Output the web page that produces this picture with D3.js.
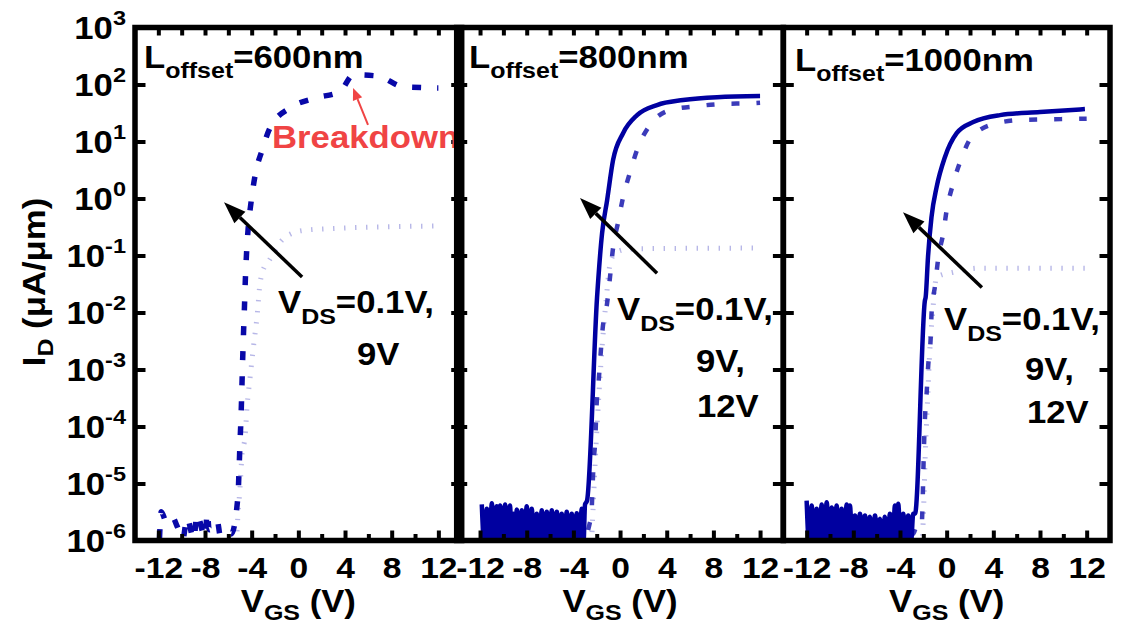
<!DOCTYPE html>
<html>
<head>
<meta charset="utf-8">
<script src="https://cdn.jsdelivr.net/npm/d3@7"></script>
<style>
  body { margin: 0; background: #fff; }
  text { font-family: "Liberation Sans", Arial, sans-serif; font-weight: bold; }
</style>
</head>
<body>
<svg id="chart" width="1127" height="626"></svg>
<script>
// ---- axis ticks / labels ----
const vgsTicks = [-12, -8, -4, 0, 4, 8, 12];
const vgsMinorTicks = [-10, -6, -2, 2, 6, 10];
const idTicks = [1e-6, 1e-5, 1e-4, 1e-3, 1e-2, 1e-1, 1, 10, 100, 1000];
const idExponents = ["-6", "-5", "-4", "-3", "-2", "-1", "0", "1", "2", "3"];
const offsetLengths = ["600nm", "800nm", "1000nm"];
const vdsLists = [["9V"], ["9V,", "12V"], ["9V,", "12V"]];

// ---- L_offset = 600nm : [VGS (V), ID (uA/um)] ----
const p1Vds9 = [
  [-11.9, 1.1e-6], [-11.75, 3.2e-6], [-11.3, 2.1e-6], [-10.8, 2.6e-6], [-10.4, 1.8e-6],
  [-9.9, 1.05e-6], [-9.55, 2.5e-6], [-8.95, 1.05e-6], [-8.7, 2.9e-6], [-8.0, 1.15e-6],
  [-7.8, 3.1e-6], [-7.65, 1.55e-6], [-6.95, 2.25e-6], [-6.7, 1.25e-6], [-6.0, 1.5e-6],
  [-5.75, 1.3e-6], [-5.17, 6.2e-6], [-5.08, 1.8e-5], [-5.0, 5.2e-5], [-4.91, 1.55e-4],
  [-4.84, 4.7e-4], [-4.78, 1.35e-3], [-4.7, 4.3e-3], [-4.62, 0.0123], [-4.55, 0.034],
  [-4.45, 0.1], [-4.3, 0.30], [-4.05, 0.87], [-3.7, 2.6], [-3.1, 7.1], [-2.4, 17.8],
  [-0.7, 39], [1.4, 57.5], [3.6, 76], [4.7, 148], [6.8, 141], [9.0, 91], [12.0, 87]
];
const p1Vds01 = [
  [-12, 6e-7], [-5.4, 6e-7], [-5.17, 2.95e-6], [-5.0, 8.5e-6], [-4.82, 3.4e-5],
  [-4.57, 6.5e-5], [-4.4, 2.2e-4], [-4.14, 7.1e-4], [-3.88, 2.2e-3], [-3.45, 0.0135],
  [-3.37, 0.022], [-3.03, 0.055], [-2.6, 0.076], [-1.4, 0.186], [-0.54, 0.245],
  [0.4, 0.275], [3.3, 0.30], [8.1, 0.32], [12, 0.33]
];

// ---- L_offset = 800nm ----
const p2Noise12 = [
  [-11.85, 4.3e-6], [-11.63, 8e-7], [-11.42, 3.6e-6], [-11.2, 8e-7], [-10.99, 4.5e-6],
  [-10.78, 8e-7], [-10.57, 4.0e-6], [-10.42, 8e-7], [-10.28, 4.1e-6], [-10.06, 8e-7],
  [-9.85, 4.3e-6], [-9.64, 8e-7], [-9.43, 4.1e-6], [-9.28, 8e-7], [-9.14, 2.95e-6],
  [-9.0, 8e-7], [-8.85, 3.5e-6], [-8.63, 8e-7], [-8.42, 3.4e-6], [-8.2, 8e-7],
  [-8.0, 4.0e-6], [-7.78, 8e-7], [-7.57, 3.6e-6], [-7.35, 8e-7], [-7.14, 2.95e-6],
  [-6.92, 8e-7], [-6.71, 3.4e-6], [-6.5, 8e-7], [-6.28, 3.2e-6], [-6.06, 8e-7],
  [-5.85, 3.4e-6], [-5.63, 8e-7], [-5.42, 3.2e-6], [-5.2, 8e-7], [-5.0, 2.95e-6],
  [-4.78, 8e-7], [-4.57, 3.2e-6], [-4.35, 8e-7], [-4.14, 2.95e-6], [-3.92, 8e-7],
  [-3.71, 3.0e-6], [-3.5, 8e-7], [-3.28, 3.6e-6], [-3.14, 8e-7], [-3.0, 4.3e-6]
];
const p2Rise12 = [
  [-2.83, 5.0e-6], [-1.97, 0.0185], [-1.54, 0.246], [-1.11, 0.93], [-0.6, 4.7],
  [0.26, 14.0], [1.46, 29], [3.17, 43.6], [5.4, 53.3], [8.31, 60], [12, 62.7]
];
const p2Vds9 = [
  [-11.8, 3.4e-6], [-11.3, 1.2e-6], [-10.7, 3.0e-6], [-10.1, 1.3e-6], [-9.5, 3.2e-6],
  [-8.9, 1.1e-6], [-8.3, 2.8e-6], [-7.7, 1.2e-6], [-7.1, 2.7e-6], [-6.5, 1.3e-6],
  [-5.9, 2.9e-6], [-5.3, 1.1e-6], [-4.7, 2.6e-6], [-4.1, 1.2e-6], [-3.5, 2.8e-6],
  [-2.9, 1.3e-6], [-2.6, 2.0e-6], [-2.46, 2.75e-6], [-2.37, 7.1e-6], [-2.28, 2.1e-5],
  [-2.11, 6.6e-5], [-2.03, 1.95e-4], [-1.85, 5.6e-4], [-1.68, 1.7e-3], [-1.5, 5.0e-3],
  [-1.11, 0.0145], [-0.86, 0.042], [-0.6, 0.135], [-0.17, 0.38], [0.26, 1.05],
  [0.86, 2.9], [1.54, 7.9], [2.57, 19.5], [4.28, 35.5], [6.6, 41.7], [8.83, 45.7],
  [11.14, 46.8], [12, 47.9]
];
const p2Vds01 = [
  [-12, 6e-7], [-2.5, 6e-7], [-2.35, 2.5e-6], [-2.1, 3.2e-5], [-1.8, 4.0e-4],
  [-1.5, 3.2e-3], [-1.2, 0.0158], [-0.9, 0.063], [-0.5, 0.105], [0.3, 0.126],
  [2, 0.132], [12, 0.135]
];

// ---- L_offset = 1000nm ----
const p3Noise12 = [
  [-12.0, 5.0e-6], [-11.78, 8e-7], [-11.57, 4.1e-6], [-11.35, 8e-7], [-11.14, 3.6e-6],
  [-10.92, 8e-7], [-10.71, 4.3e-6], [-10.5, 8e-7], [-10.28, 4.7e-6], [-10.06, 8e-7],
  [-9.85, 3.8e-6], [-9.64, 8e-7], [-9.43, 4.1e-6], [-9.21, 8e-7], [-9.0, 3.6e-6],
  [-8.78, 8e-7], [-8.57, 4.3e-6], [-8.43, 8e-7], [-8.29, 4.1e-6], [-8.07, 8e-7],
  [-7.86, 2.75e-6], [-7.64, 8e-7], [-7.43, 2.95e-6], [-7.21, 8e-7], [-7.0, 2.75e-6],
  [-6.78, 8e-7], [-6.57, 2.6e-6], [-6.35, 8e-7], [-6.14, 2.75e-6], [-5.93, 8e-7],
  [-5.72, 2.4e-6], [-5.5, 8e-7], [-5.29, 2.6e-6], [-5.07, 8e-7], [-4.86, 2.95e-6],
  [-4.64, 8e-7], [-4.43, 4.1e-6], [-4.29, 8e-7], [-4.15, 4.4e-6], [-3.93, 8e-7],
  [-3.72, 2.95e-6], [-3.5, 8e-7], [-3.29, 2.75e-6], [-3.07, 8e-7], [-2.86, 2.95e-6]
];
const p3Rise12 = [
  [-2.71, 2.95e-6], [-1.86, 0.0164], [-1.8, 0.0185], [-1.6, 0.093], [-1.3, 0.47],
  [-0.86, 1.58], [-0.15, 5.3], [0.86, 14.0], [2.28, 21.9], [4.57, 29], [8.0, 32.8],
  [11.85, 37]
];
const p3Vds9 = [
  [-11.9, 3.6e-6], [-11.3, 1.2e-6], [-10.7, 3.2e-6], [-10.1, 1.3e-6], [-9.5, 3.0e-6],
  [-8.9, 1.1e-6], [-8.3, 2.9e-6], [-7.7, 1.2e-6], [-7.1, 2.4e-6], [-6.5, 1.3e-6],
  [-5.9, 2.3e-6], [-5.3, 1.1e-6], [-4.7, 2.5e-6], [-4.1, 1.2e-6], [-3.5, 2.6e-6],
  [-2.9, 1.3e-6], [-2.4, 2.2e-6], [-2.14, 2.0e-6], [-2.05, 5.5e-6], [-2.0, 1.55e-5],
  [-1.94, 4.7e-5], [-1.86, 1.38e-4], [-1.71, 4.0e-4], [-1.58, 1.17e-3], [-1.37, 3.5e-3],
  [-1.29, 0.01], [-0.99, 0.030], [-0.71, 0.093], [-0.29, 0.245], [0, 0.62],
  [0.57, 1.86], [1.29, 5.2], [2.14, 12.0], [4.28, 20.9], [6.56, 24.0], [8.85, 24.5],
  [12, 25.1]
];
const p3Vds01 = [
  [-12, 6e-7], [-2.2, 6e-7], [-2.0, 2.5e-6], [-1.85, 2.5e-5], [-1.65, 2.5e-4],
  [-1.45, 2.0e-3], [-1.2, 0.01], [-0.86, 0.042], [0.57, 0.051], [2.85, 0.060],
  [12, 0.060]
];

// arrow annotations in data units [VGS, ID]
const vdsArrows = [
  [[0.32, 0.042], [-6.37, 0.86]],
  [[3.17, 0.049], [-3.43, 1.02]],
  [[3.02, 0.0275], [-3.74, 0.575]]
];
const breakdownArrow = [[5.97, 19.5], [4.69, 87]];

// ---- layout ----
const svg = d3.select("#chart");
const plotTop = 27.5, plotBottom = 540.5, panelWidth = 326.7;
const panelLeft = [135, 456.7, 783.3];
const stretch = 1.12;
const fontSize = 31;

const styles = {
  dot:   { stroke: "#7c7cd4", width: 5, dash: "1.4 9.6", opacity: 0.55 },
  dashA: { stroke: "#0808a8", width: 5.5, dash: "9 16", opacity: 1 },
  dashB: { stroke: "#2626b2", width: 4.5, dash: "8 17", opacity: 0.9 },
  solid: { stroke: "#0000a0", width: 4.5, dash: null, opacity: 1 }
};

const panels = [
  { curves: [[p1Vds01, "dot"], [p1Vds9, "dashA"]],
    title: [144, 68], vds: [278, 313], lines: [[357, 365]] },
  { curves: [[p2Vds01, "dot"], [p2Vds9, "dashB"], [p2Noise12.concat(p2Rise12), "solid"]],
    title: [469, 68], vds: [617, 320], lines: [[696, 372], [697, 417]] },
  { curves: [[p3Vds01, "dot"], [p3Vds9, "dashB"], [p3Noise12.concat(p3Rise12), "solid"]],
    title: [795, 71], vds: [944, 330], lines: [[1025, 380], [1027, 423]] }
];

const y = d3.scaleLog().domain([1e-6, 1e3]).range([plotBottom, plotTop]);

// rich text helper: parts = [[text, isSub], ...]
function richText(x, yy, parts, opts = {}) {
  const size = opts.size || fontSize;
  const g = svg.append("g")
    .attr("transform", `translate(${x},${yy})${opts.rotate ? " rotate(-90)" : ""} scale(${stretch},1)`);
  const t = g.append("text")
    .attr("text-anchor", opts.anchor || "start")
    .attr("fill", opts.fill || "#000")
    .attr("font-size", size);
  let shifted = 0;
  parts.forEach(([s, sub]) => {
    const target = sub ? (opts.subShift || 10) : 0;
    t.append("tspan")
      .attr("dy", target - shifted)
      .attr("font-size", sub ? size * 0.72 : size)
      .text(s);
    shifted = target;
  });
  return g;
}

function arrow(g, x, from, to, color, w, headLen, headHalf) {
  const x1 = x(from[0]), y1 = y(from[1]), x2 = x(to[0]), y2 = y(to[1]);
  const a = Math.atan2(y2 - y1, x2 - x1);
  const bx = x2 - headLen * Math.cos(a), by = y2 - headLen * Math.sin(a);
  g.append("line")
    .attr("x1", x1).attr("y1", y1).attr("x2", bx).attr("y2", by)
    .attr("stroke", color).attr("stroke-width", w);
  const nx = -Math.sin(a) * headHalf, ny = Math.cos(a) * headHalf;
  g.append("path")
    .attr("d", `M${x2},${y2}L${bx + nx},${by + ny}L${bx - nx},${by - ny}Z`)
    .attr("fill", color);
}

panels.forEach((p, i) => {
  const left = panelLeft[i];
  const x = d3.scaleLinear().domain([-14, 14]).range([left, left + panelWidth]);
  const g = svg.append("g");

  g.append("clipPath").attr("id", "clip" + i)
    .append("rect")
    .attr("x", left).attr("y", plotTop)
    .attr("width", panelWidth).attr("height", plotBottom - plotTop);

  const line = d3.line().x(d => x(d[0])).y(d => y(d[1])).curve(d3.curveMonotoneX);
  const curveG = g.append("g").attr("clip-path", `url(#clip${i})`);
  p.curves.forEach(([data, key]) => {
    const s = styles[key];
    curveG.append("path")
      .datum(data)
      .attr("d", line)
      .attr("fill", "none")
      .attr("stroke", s.stroke)
      .attr("stroke-width", s.width)
      .attr("stroke-dasharray", s.dash)
      .attr("stroke-linejoin", "round")
      .attr("opacity", s.opacity);
  });

  // axes
  const bottom = g.append("g").attr("transform", `translate(0,${plotBottom})`)
    .call(d3.axisBottom(x).tickValues(vgsTicks).tickSize(-10)
      .tickFormat(d => d < 0 ? "-" + Math.abs(d) : d));
  bottom.selectAll("text")
    .attr("y", null).attr("dy", null)
    .attr("transform", `translate(0,37.5) scale(${stretch},1)`)
    .attr("font-size", 30).attr("font-family", "'Liberation Sans', Arial, sans-serif")
    .attr("font-weight", "bold").attr("fill", "#000");
  g.append("g").attr("transform", `translate(0,${plotBottom})`)
    .call(d3.axisBottom(x).tickValues(vgsMinorTicks).tickSize(-6.5).tickFormat(""));
  g.append("g").attr("transform", `translate(0,${plotTop})`)
    .call(d3.axisTop(x).tickValues(vgsTicks.concat(vgsMinorTicks)).tickSize(-8).tickFormat(""));
  g.append("g").attr("transform", `translate(${left},0)`)
    .call(d3.axisLeft(y).tickValues(idTicks).tickSize(-10.5).tickFormat(""));
  g.append("g").attr("transform", `translate(${left + panelWidth},0)`)
    .call(d3.axisRight(y).tickValues(idTicks).tickSize(-10.5).tickFormat(""));
  g.selectAll(".domain").remove();
  g.selectAll(".tick line").attr("stroke", "#000").attr("stroke-width", 4);

  g.append("rect")
    .attr("x", left).attr("y", plotTop)
    .attr("width", panelWidth).attr("height", plotBottom - plotTop)
    .attr("fill", "none").attr("stroke", "#000").attr("stroke-width", 5.5);

  // x title
  richText((x(-14) + x(14)) / 2, 612, [["V", false], ["GS", true], [" (V)", false]],
    { anchor: "middle", subShift: 8 });

  // annotations
  richText(p.title[0], p.title[1], [["L", false], ["offset", true], ["=" + offsetLengths[i], false]],
    { subShift: 10 });
  richText(p.vds[0], p.vds[1], [["V", false], ["DS", true], ["=0.1V,", false]], { subShift: 11 });
  p.lines.forEach((pos, k) => richText(pos[0], pos[1], [[vdsLists[i][k], false]]));

  arrow(g, x, vdsArrows[i][0], vdsArrows[i][1], "#000", 3.5, 22, 8);

  if (i === 0) {
    richText(272, 148, [["Breakdown", false]], { fill: "#f04444" });
    arrow(g, x, breakdownArrow[0], breakdownArrow[1], "#f04444", 2, 12, 5);

    // y tick labels
    idTicks.forEach((v, k) => {
      const gl = svg.append("g")
        .attr("transform", `translate(126,${y(v) + 11.5}) scale(${stretch},1)`);
      const t = gl.append("text").attr("text-anchor", "end").attr("font-size", fontSize);
      t.append("tspan").text("10");
      t.append("tspan").attr("dy", -14).attr("font-size", 21).text(idExponents[k]);
    });
  }
});

// y title
richText(45, 282, [["I", false], ["D", true], [" (\u03bcA/\u03bcm)", false]],
  { anchor: "middle", rotate: true, subShift: 8 });
</script>
</body>
</html>
